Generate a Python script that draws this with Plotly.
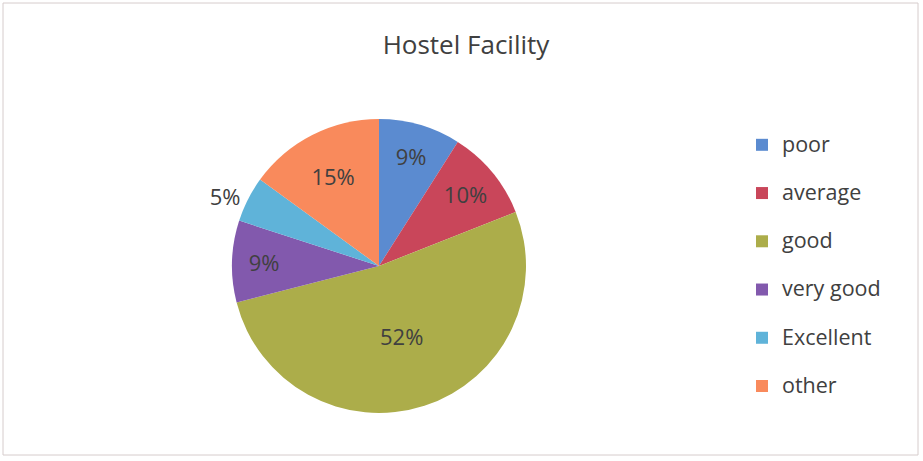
import plotly.graph_objects as go

# slice data
categories = ['poor', 'average', 'good', 'very good', 'Excellent', 'other']
shares = [9, 10, 52, 9, 5, 15]
slice_colours = ['#5b8bd0', '#c9465a', '#acad4a', '#8259ad', '#5fb3d9', '#f98a5c']
text_positions = ['inside', 'inside', 'inside', 'inside', 'outside', 'inside']

W, H = 923, 461
FONT = 'Open Sans'
INK = '#404040'

# two-line legend entries give the wide row spacing of the original;
# the legend font sets the row height, the span sets the visible size
legend_labels = [f"<span style='font-size:21.5px'>{c}</span><br> " for c in categories]

fig = go.Figure()

fig.add_trace(
    go.Pie(
        labels=legend_labels,
        values=shares,
        sort=False,
        direction='clockwise',
        rotation=0,
        marker=dict(colors=slice_colours, line=dict(width=0)),
        texttemplate='%{percent:.0%}',
        textposition=text_positions,
        insidetextorientation='horizontal',
        textfont=dict(family=FONT, size=22, color=INK),
        outsidetextfont=dict(family=FONT, size=22, color=INK),
        hovertemplate='%{customdata}: %{value}%<extra></extra>',
        customdata=categories,
        domain=dict(x=[232 / W, 526 / W], y=[1 - 413 / H, 1 - 119 / H]),
        automargin=False,
    )
)

# chart frame
fig.add_shape(
    type='rect',
    xref='paper', yref='paper',
    x0=3 / W, x1=918 / W, y0=1 - 455 / H, y1=1 - 3 / H,
    line=dict(color='#d6cccc', width=1),
)

fig.update_layout(
    width=W,
    height=H,
    margin=dict(l=0, r=0, t=0, b=0),
    paper_bgcolor='white',
    title=dict(
        text='Hostel Facility',
        x=466 / W,
        xanchor='center',
        y=1 - 45 / H,
        yanchor='middle',
        font=dict(family=FONT, size=26, color=INK),
    ),
    legend=dict(
        x=742 / W,
        xanchor='left',
        y=1 - 127 / H,
        yanchor='top',
        valign='top',
        font=dict(family=FONT, size=17.4, color=INK),
        bgcolor='rgba(0,0,0,0)',
    ),
    showlegend=True,
)

# the page body has a default margin; drop it so the figure fills the window
fig.write_html(
    "out.html",
    config={'displayModeBar': False},
    post_script="document.body.style.margin='0';",
)
